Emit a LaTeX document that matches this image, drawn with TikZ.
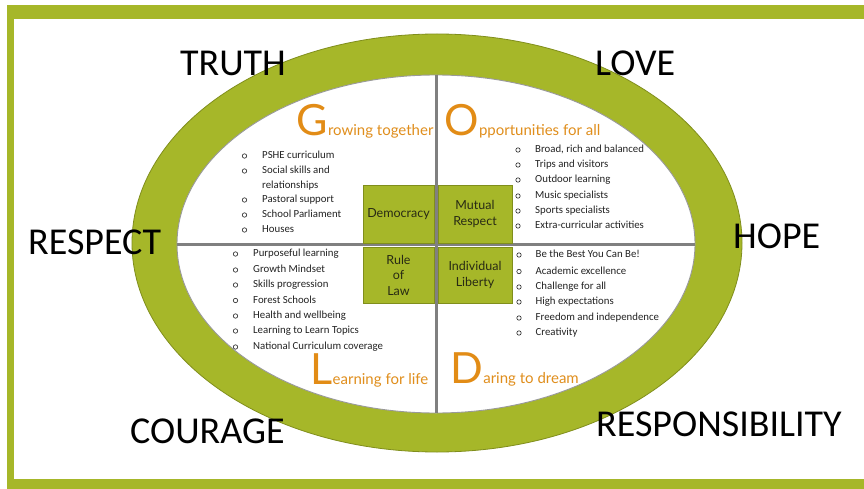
\documentclass[tikz,border=0pt]{standalone}
\usepackage{fontspec}
\setmainfont{Carlito}
\newfontfamily\hand{Lato}
\definecolor{leaf}{RGB}{166,183,41}
\definecolor{leafdark}{RGB}{128,142,28}
\definecolor{crossgray}{RGB}{128,128,128}
\definecolor{amber}{RGB}{224,142,28}
\definecolor{amberbig}{RGB}{226,140,22}
\definecolor{ink}{RGB}{35,35,35}
\definecolor{boxink}{RGB}{40,42,20}
\tikzset{
  bigword/.style={anchor=base west, inner sep=0pt, font=\fontsize{38}{40}\selectfont, text=black},
  initial/.style={anchor=base west, inner sep=0pt, font=\hand\fontsize{43}{45}\selectfont, text=amberbig},
  headrest/.style={anchor=base west, inner sep=0pt, font=\hand\fontsize{15}{17}\selectfont, text=amber},
  item/.style={anchor=west, inner sep=0pt, text height=7pt, text depth=2pt, font=\fontsize{10.8}{13}\selectfont, text=ink},
  bulletdot/.style={draw=ink, line width=0.6pt, fill=white},
  valuebox/.style={draw=leafdark, line width=0.8pt, fill=leaf, inner sep=0pt, align=center, text=boxink, font=\hand\fontsize{12.5}{15.5}\selectfont},
  crossline/.style={draw=crossgray, line width=3pt}
}
\begin{document}
\begin{tikzpicture}[x=1pt,y=-1pt]
\useasboundingbox (0,0) rectangle (864,489);
\fill[white] (0,0) rectangle (864,489);
% frame
\fill[leaf] (7,5) rectangle (864,489);
\fill[white] (14,19) rectangle (864,479);
% ring
\filldraw[fill=leaf, draw=leafdark, line width=0.8pt] (437,243) ellipse [x radius=305, y radius=209];
\filldraw[fill=white, draw=crossgray!80, line width=0.9pt] (436,244) ellipse [x radius=259, y radius=169];
% cross
\coordinate (ctop) at (436,75);
\coordinate (cbot) at (436,413);
\coordinate (cleft) at (177,244);
\coordinate (cright) at (695,244);
\draw[crossline] (ctop) -- (cbot);
\draw[crossline] (cleft) -- (cright);
% value boxes
\node[valuebox, minimum width=71pt, minimum height=58pt] (dem) at (398.5,214) {Democracy};
\node[valuebox, minimum width=74pt, minimum height=58pt] (mut) at (475,214) {Mutual\\Respect};
\node[valuebox, minimum width=71pt, minimum height=56pt] (rule) at (398.5,275) {Rule\\of\\Law};
\node[valuebox, minimum width=74pt, minimum height=56pt] (lib) at (475,275) {Individual\\Liberty};
% big words
\node[bigword] (truth) at (180,76) {TRUTH};
\node[bigword] (love) at (595,76) {LOVE};
\node[bigword] (respect) at (28,254) {RESPECT};
\node[bigword] (hope) at (733,248) {HOPE};
\node[bigword] (courage) at (130,443) {COURAGE};
\node[bigword] (resp) at (596,436) {RESPONSIBILITY};
% headings
\node[initial] (hG) at (296,136) {G};
\node[headrest] (hGr) at (hG.base east) {rowing together};
\node[initial] (hO) at (444,136) {O};
\node[headrest] (hOr) at (hO.base east) {pportunities for all};
\node[initial] (hL) at (310,384) {L};
\node[headrest] (hLr) at (hL.base east) {earning for life};
\node[initial] (hD) at (450,383) {D};
\node[headrest] (hDr) at (hD.base east) {aring to dream};
% top-left list
\foreach \t/\y/\b [count=\i] in {PSHE curriculum/156/1, Social skills and/171/1, relationships/186/0, Pastoral support/200/1, School Parliament/215/1, Houses/230/1}{
  \node[item] (tl\i) at (262,\y) {\t};
  \ifnum\b=1 \draw[bulletdot] (244.5,\y) circle (2.2pt); \fi
}
% top-right list
\foreach \t/\y [count=\i] in {{Broad, rich and balanced}/150, Trips and visitors/165, Outdoor learning/180, Music specialists/196, Sports specialists/211, Extra-curricular activities/226}{
  \node[item] (tr\i) at (535,\y) {\t};
  \draw[bulletdot] (518,\y) circle (2.2pt);
}
% bottom-left list
\foreach \t/\y [count=\i] in {Purposeful learning/254, Growth Mindset/270, Skills progression/285, Forest Schools/300.5, Health and wellbeing/316, Learning to Learn Topics/331, National Curriculum coverage/347}{
  \node[item] (bl\i) at (253,\y) {\t};
  \draw[bulletdot] (235.5,\y) circle (2.2pt);
}
% bottom-right list
\foreach \t/\y [count=\i] in {Be the Best You Can Be!/255, Academic excellence/271.5, Challenge for all/287, High expectations/302, Freedom and independence/318, Creativity/333}{
  \node[item] (br\i) at (535.5,\y) {\t};
  \draw[bulletdot] (519,\y) circle (2.2pt);
}
\end{tikzpicture}
\end{document}
